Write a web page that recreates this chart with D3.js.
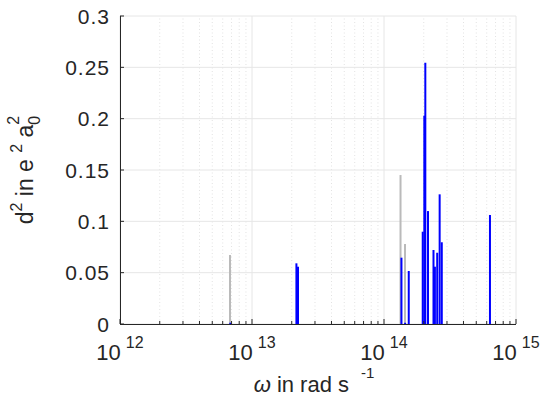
<!DOCTYPE html>
<html>

<head>
  <meta charset="UTF-8">
  <title>Dipole strengths</title>
  <script src="https://d3js.org/d3.v7.min.js"></script>
  <style>
    body {
      margin: 0;
      background: #fff;
    }

    svg text {
      font-family: "Liberation Sans", Arial, sans-serif;
      fill: #262626;
    }
  </style>
</head>

<body>
  <svg></svg>

  <script>
    // frequencies (rad/s) and squared dipole strengths
    const grayFreq = [6.81e12, 1.334e14, 1.443e14];
    const grayVal = [0.0672, 0.1451, 0.0779];

    const blueFreq = [6.85e12, 2.17e13, 2.23e13, 1.356e14, 1.445e14, 1.54e14,
      1.965e14, 2.02e14, 2.056e14, 2.154e14, 2.371e14, 2.43e14, 2.53e14,
      2.64e14, 2.74e14, 6.35e14];
    const blueVal = [0.0012, 0.0591, 0.0558, 0.0646, 0.0012, 0.0516,
      0.0899, 0.2029, 0.2545, 0.110, 0.0721, 0.0558, 0.0694,
      0.1263, 0.0796, 0.1062];

    const yTicks = [0, 0.05, 0.1, 0.15, 0.2, 0.25, 0.3];
    const xExponents = [12, 13, 14, 15];

    let width = 552,
      height = 403;
    let margin = { left: 120, right: 36, top: 16, bottom: 79 };

    let svg = d3.select("svg")
      .attr("width", width)
      .attr("height", height);

    let x = d3.scaleLog()
      .domain([1e12, 1e15])
      .range([margin.left, width - margin.right]);

    let y = d3.scaleLinear()
      .domain([0, 0.3])
      .range([height - margin.bottom, margin.top]);

    let x0 = x.range()[0], x1 = x.range()[1];
    let y0 = y.range()[0], y1 = y.range()[1];

    // grid: log scale ticks give 1..9 per decade
    let allX = x.ticks();
    let isMajor = t => Math.abs(Math.log10(t) - Math.round(Math.log10(t))) < 1e-9;

    svg.append("g")
      .selectAll("line")
      .data(allX.filter(t => !isMajor(t)))
      .enter()
      .append("line")
      .attr("x1", d => x(d)).attr("x2", d => x(d))
      .attr("y1", y0).attr("y2", y1)
      .attr("stroke", "#e2e2e2")
      .attr("stroke-width", 1)
      .attr("stroke-dasharray", "1,2.5");

    svg.append("g")
      .selectAll("line")
      .data(allX.filter(isMajor))
      .enter()
      .append("line")
      .attr("x1", d => x(d)).attr("x2", d => x(d))
      .attr("y1", y0).attr("y2", y1)
      .attr("stroke", "#e6e6e6")
      .attr("stroke-width", 1);

    svg.append("g")
      .selectAll("line")
      .data(yTicks)
      .enter()
      .append("line")
      .attr("x1", x0).attr("x2", x1)
      .attr("y1", d => y(d)).attr("y2", d => y(d))
      .attr("stroke", "#e6e6e6")
      .attr("stroke-width", 1);

    // stems
    function stems(freq, vals, color) {
      svg.append("g")
        .selectAll("line")
        .data(freq.map((f, i) => [f, vals[i]]))
        .enter()
        .append("line")
        .attr("x1", d => x(d[0])).attr("x2", d => x(d[0]))
        .attr("y1", y(0)).attr("y2", d => y(d[1]))
        .attr("stroke", color)
        .attr("stroke-width", 2);
    }
    stems(grayFreq, grayVal, "#bababa");
    stems(blueFreq, blueVal, "#0000ff");

    // axes lines
    svg.append("line")
      .attr("x1", x0).attr("x2", x1).attr("y1", y0 + 0.5).attr("y2", y0 + 0.5)
      .attr("stroke", "#262626");
    svg.append("line")
      .attr("x1", x0 + 0.5).attr("x2", x0 + 0.5).attr("y1", y0).attr("y2", y1)
      .attr("stroke", "#262626");

    // inward ticks
    svg.append("g")
      .selectAll("line")
      .data(allX)
      .enter()
      .append("line")
      .attr("x1", d => x(d)).attr("x2", d => x(d))
      .attr("y1", y0).attr("y2", d => y0 - (isMajor(d) ? 5 : 3))
      .attr("stroke", "#262626");

    svg.append("g")
      .selectAll("line")
      .data(yTicks)
      .enter()
      .append("line")
      .attr("x1", x0).attr("x2", x0 + 4)
      .attr("y1", d => y(d)).attr("y2", d => y(d))
      .attr("stroke", "#262626");

    // y tick labels
    svg.append("g")
      .selectAll("text")
      .data(yTicks)
      .enter()
      .append("text")
      .attr("x", x0 - 10)
      .attr("y", d => y(d) + 7.5)
      .attr("text-anchor", "end")
      .style("font-size", "21px")
      .style("letter-spacing", "1px")
      .text(d => d3.format("~g")(d));

    // x tick labels: 10^n
    let xl = svg.append("g")
      .selectAll("text")
      .data(xExponents)
      .enter()
      .append("text")
      .attr("x", d => x(Math.pow(10, d)))
      .attr("y", 360)
      .attr("text-anchor", "middle")
      .style("font-size", "22px");
    xl.append("tspan").text("10");
    xl.append("tspan")
      .attr("dx", 5)
      .attr("dy", -12)
      .style("font-size", "16px")
      .text(d => d);

    // x label
    let xt = svg.append("text")
      .attr("x", 314)
      .attr("y", 392)
      .attr("text-anchor", "middle")
      .style("font-size", "22px");
    xt.append("tspan").style("font-style", "italic").text("ω");
    xt.append("tspan").text(" in rad s");
    xt.append("tspan").attr("dx", 12).attr("dy", -14)
      .style("font-size", "15px").text("-1");

    // y label
    let yt = svg.append("text")
      .attr("transform", "translate(33," + ((y0 + y1) / 2) + ") rotate(-90)")
      .attr("text-anchor", "middle")
      .style("font-size", "23px");
    yt.append("tspan").text("d");
    yt.append("tspan").attr("dy", -11).style("font-size", "16px").text("2");
    yt.append("tspan").attr("dy", 11).text(" in e ");
    yt.append("tspan").attr("dy", -11).style("font-size", "16px").text("2");
    yt.append("tspan").attr("dy", 11).text(" a");
    yt.append("tspan").attr("dy", 7).style("font-size", "16px").text("0");
    yt.append("tspan").attr("dx", -9).attr("dy", -21).style("font-size", "16px").text("2");
  </script>

</body>

</html>
